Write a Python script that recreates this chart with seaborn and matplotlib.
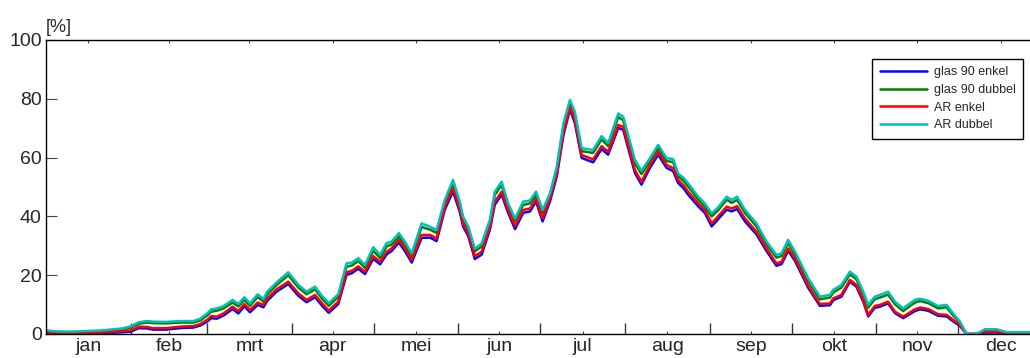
import pandas as pd
import seaborn as sns
import matplotlib
import matplotlib.pyplot as plt
from matplotlib.ticker import FixedLocator
matplotlib.use('Agg')

sns.set_style("ticks")
plt.rcParams['font.family'] = ['Liberation Sans', 'DejaVu Sans']

# day of year for each sample
days = [0, 3, 9, 20, 28, 31, 34, 37, 39, 44,
        49, 54, 56.5, 59, 60.5, 62.5, 65, 68.3, 70.4, 72.6,
        74.7, 77.5, 79.6, 81, 84.4, 88.7, 92.4, 95.4, 98.5, 101,
        103.5, 107, 110, 112, 114.3, 116.8, 119.8, 122.3, 124.7, 126.5,
        129.2, 131.4, 133.9, 137.5, 140.6, 143, 146, 149, 151.5, 152.7,
        154.6, 157, 159.5, 162.5, 164.3, 166.8, 169.2, 171.7, 174.7, 177.2,
        179.4, 181.8, 184.5, 187, 189.4, 191.8, 193.6, 196.1, 200.3, 203.4,
        205.8, 209.5, 211.3, 215.6, 218, 221.1, 224.1, 227.2, 229.6, 231.4,
        233.5, 235.1, 238.8, 241.2, 243.7, 246.1, 249.2, 251, 253, 255.9,
        260.1, 263.8, 267.4, 269.3, 271.7, 274.2, 279, 283.3, 287, 288.2,
        291.2, 294.3, 296.7, 299.2, 301, 303.4, 305.3, 308.3, 310.8, 313.8,
        318.1, 320, 323, 326.6, 329.7, 332.1, 334.6, 337, 340.7, 343.7,
        348, 351.6, 365]

glas90_enkel = [0.2, 0.0, 0.1, 0.2, 0.6, 0.8, 2.0, 1.9, 1.5, 1.5,
                2.0, 2.2, 2.9, 4.2, 5.4, 5.2, 6.3, 8.5, 7.0, 9.4,
                7.4, 9.9, 9.1, 11.3, 14.4, 17.0, 13.0, 10.8, 12.5, 9.7,
                7.2, 10.2, 20.1, 20.7, 22.2, 20.4, 25.6, 23.7, 27.1, 28.2,
                31.1, 28.2, 24.3, 32.7, 32.8, 31.6, 42.3, 48.5, 41.5, 36.6,
                33.3, 25.5, 27.0, 35.5, 44.0, 47.4, 41.2, 35.7, 41.2, 41.7,
                45.1, 38.3, 45.1, 53.6, 67.5, 76.4, 71.8, 59.9, 58.4, 62.9,
                61.0, 70.1, 69.5, 54.8, 50.8, 56.5, 61.0, 56.5, 55.4, 51.4,
                49.5, 47.4, 43.4, 41.2, 36.6, 39.1, 42.3, 41.7, 42.5, 38.3,
                33.9, 28.2, 23.2, 23.8, 28.3, 24.9, 15.8, 9.6, 9.8, 11.5,
                12.7, 17.8, 16.1, 11.0, 6.0, 8.9, 9.3, 10.4, 7.1, 5.4,
                7.8, 8.4, 7.9, 6.2, 6.0, 4.3, 2.7, 0.0, 0.0, 0.5,
                0.5, 0.0, 0.1]

glas90_dubbel = [1.0, 0.7, 0.6, 0.9, 1.6, 2.2, 3.5, 3.9, 3.7, 3.6,
                 3.9, 3.9, 4.6, 6.3, 7.6, 7.9, 8.7, 10.7, 9.4, 11.6,
                 9.6, 12.6, 11.0, 13.5, 16.6, 20.0, 15.8, 13.5, 15.2, 12.1,
                 9.6, 12.6, 22.9, 23.3, 24.8, 22.5, 28.3, 25.9, 29.8, 30.4,
                 33.2, 30.4, 26.5, 36.4, 35.5, 34.4, 44.6, 51.2, 44.0, 38.9,
                 35.5, 28.1, 29.8, 37.8, 47.3, 50.7, 43.5, 38.4, 43.9, 44.4,
                 47.4, 41.2, 47.0, 55.9, 70.5, 78.6, 74.5, 62.2, 61.6, 66.2,
                 63.9, 73.8, 72.7, 58.1, 54.4, 58.8, 63.3, 58.8, 58.5, 53.7,
                 52.0, 50.2, 45.7, 43.4, 40.0, 42.1, 45.7, 44.6, 45.6, 41.2,
                 36.6, 30.5, 26.0, 26.5, 31.0, 27.0, 18.1, 11.8, 12.4, 14.1,
                 15.8, 20.3, 18.6, 13.5, 9.0, 11.8, 12.4, 13.4, 10.1, 7.8,
                 10.7, 11.2, 10.5, 8.7, 9.1, 6.3, 3.9, 0.0, 0.0, 1.4,
                 1.4, 0.5, 0.5]

ar_enkel = [0.5, 0.3, 0.3, 0.5, 1.0, 1.2, 2.5, 2.4, 2.0, 2.0,
            2.5, 2.7, 3.4, 4.8, 6.1, 5.9, 7.0, 9.3, 7.8, 10.2,
            8.2, 10.7, 9.9, 12.1, 15.2, 17.8, 13.8, 11.6, 13.3, 10.5,
            8.0, 11.0, 21.0, 21.5, 23.0, 21.2, 26.5, 24.6, 28.0, 29.1,
            32.0, 29.1, 25.2, 33.7, 33.7, 32.5, 43.3, 49.5, 42.5, 37.6,
            34.3, 26.5, 28.0, 36.5, 45.0, 48.4, 42.2, 36.7, 42.2, 42.7,
            46.1, 39.3, 46.1, 54.6, 68.5, 77.3, 72.8, 60.9, 59.4, 63.9,
            62.0, 71.1, 70.5, 55.8, 51.8, 57.5, 62.0, 57.5, 56.4, 52.4,
            50.5, 48.4, 44.4, 42.2, 37.6, 40.1, 43.3, 42.7, 43.5, 39.3,
            34.8, 29.1, 24.0, 24.6, 29.1, 25.7, 16.5, 10.2, 10.4, 12.1,
            13.3, 18.4, 16.7, 11.6, 6.5, 9.5, 9.9, 11.0, 7.6, 5.9,
            8.4, 9.0, 8.5, 6.7, 6.5, 4.8, 3.1, 0.0, 0.0, 0.8,
            0.8, 0.0, 0.3]

ar_dubbel = [1.3, 0.9, 0.8, 1.2, 1.9, 2.6, 4.0, 4.4, 4.2, 4.1,
             4.4, 4.4, 5.2, 7.0, 8.4, 8.7, 9.5, 11.6, 10.2, 12.5,
             10.4, 13.5, 11.9, 14.4, 17.5, 21.0, 16.7, 14.4, 16.1, 13.0,
             10.5, 13.5, 24.0, 24.3, 25.8, 23.5, 29.5, 26.9, 30.9, 31.4,
             34.3, 31.4, 27.4, 37.6, 36.5, 35.4, 45.6, 52.4, 45.0, 39.9,
             36.5, 29.0, 30.8, 38.8, 48.4, 51.8, 44.4, 39.3, 45.0, 45.4,
             48.4, 42.2, 47.8, 56.9, 71.5, 79.6, 75.6, 63.2, 62.6, 67.3,
             64.9, 75.0, 73.9, 59.2, 55.5, 59.8, 64.3, 59.8, 59.5, 54.6,
             53.0, 51.2, 46.7, 44.4, 41.0, 43.1, 46.7, 45.6, 46.7, 42.2,
             37.6, 31.4, 26.9, 27.4, 32.0, 28.0, 19.0, 12.7, 13.3, 15.0,
             16.7, 21.2, 19.5, 14.4, 9.9, 12.7, 13.3, 14.4, 11.0, 8.7,
             11.6, 12.0, 11.3, 9.5, 9.9, 7.0, 4.2, 0.0, 0.0, 1.6,
             1.6, 0.6, 0.6]

series_names = ['glas 90 enkel', 'glas 90 dubbel', 'AR enkel', 'AR dubbel']
months = ['jan', 'feb', 'mrt', 'apr', 'mei', 'jun', 'jul', 'aug', 'sep', 'okt', 'nov', 'dec']
month_mid = [15.5, 45, 74.5, 105, 135.5, 166, 196.5, 227.5, 258, 288.5, 319, 349.5]
month_edges = [31, 59, 90, 120, 151, 181, 212, 243, 273, 304, 334]

colors = ['#0000ff', '#008000', '#ff0000', '#00bfbf']

frames = []
for name, vals in zip(series_names, [glas90_enkel, glas90_dubbel, ar_enkel, ar_dubbel]):
    frames.append(pd.DataFrame({'dag': days, 'waarde': vals, 'serie': name}))
df = pd.concat(frames, ignore_index=True)

fig = plt.figure(figsize=(10.3, 3.58), dpi=100)
# axes runs past the right edge like the cropped original
ax = fig.add_axes([46 / 1030, 24 / 358, 997 / 1030, 294 / 358])

sns.lineplot(data=df, x='dag', y='waarde', hue='serie', hue_order=series_names,
             palette=colors, estimator=None, sort=False, linewidth=1.8, ax=ax)

ax.set_xlim(0, 365)
ax.set_ylim(0, 100)
ax.set_xlabel('')
ax.set_ylabel('')

ax.set_xticks(month_mid)
ax.set_xticklabels(months)
ax.xaxis.set_minor_locator(FixedLocator(month_edges))
ax.set_yticks([0, 20, 40, 60, 80, 100])

ax.tick_params(axis='x', which='major', direction='in', length=2, width=0.8,
               color='#444444', top=True, bottom=True, labelsize=14, pad=3)
ax.tick_params(axis='x', which='minor', direction='in', length=8, width=1,
               color='#333333', top=False, bottom=True)
ax.tick_params(axis='y', direction='in', length=8, width=0.8, color='#444444',
               left=True, right=True, labelsize=14, pad=3)

for sp in ax.spines.values():
    sp.set_color('black')
    sp.set_linewidth(1)

fig.text(46 / 1030, 1 - 32 / 358, '[%]', fontsize=13, ha='left', va='baseline')

handles, labels = ax.get_legend_handles_labels()
leg = ax.legend(handles, labels, loc='upper right',
                bbox_to_anchor=(1023 / 1030, 1 - 59 / 358), bbox_transform=fig.transFigure,
                borderaxespad=0, fontsize=9, frameon=True, fancybox=False,
                edgecolor='black', framealpha=1, handlelength=3.8, handletextpad=0.5,
                labelspacing=0.45, borderpad=0.6)
leg.get_frame().set_linewidth(1)

fig.savefig('out.png', dpi=100)
